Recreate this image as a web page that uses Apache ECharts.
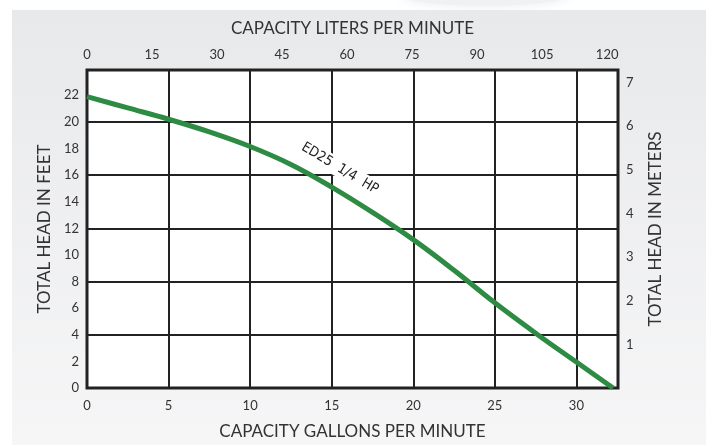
<!DOCTYPE html>
<html>
<head>
<meta charset="utf-8">
<script src="https://cdn.jsdelivr.net/npm/echarts@6/dist/echarts.min.js"></script>
<style>
  html, body { margin: 0; padding: 0; background: #fff; }
  #chart { width: 706px; height: 445px; }
</style>
</head>
<body>
<div id="chart"></div>
<script>
// pump curve
const gpm = [0, 2.5, 5, 7.5, 10, 12.5, 15, 17.5, 20, 22.5, 25, 27.5, 30, 32.25]
const feet = [21.9, 21.05, 20.2, 19.25, 18.15, 16.8, 15.1, 13.2, 11.15, 8.85, 6.4, 4.12, 1.95, 0]

// axis ranges
const gpmMax = 32.55
const lpmMax = 122.5
const feetMax = 23.9
const metersMax = 7.284

const curveName = 'ED25  1/4  HP'
const labelAt = [15.5, 16.5]

const chart = echarts.init(document.getElementById('chart'))

const font = 'Lato, "Open Sans", sans-serif'
const ink = '#333'
const gridColor = '#222'

const tickLabel = {
  color: ink,
  fontFamily: font,
  fontSize: 13
}
const nameStyle = {
  color: ink,
  fontFamily: font,
  fontSize: 17
}

const option = {
  animation: false,
  graphic: [
    {
      type: 'ellipse',
      shape: {cx: 485, cy: -6, rx: 85, ry: 12},
      style: {fill: '#f1f1f2', shadowBlur: 12, shadowColor: 'rgba(0,0,0,0.08)'},
      z: -10
    },
    {
      type: 'rect',
      shape: {x: 12, y: 10, width: 694, height: 435},
      style: {
        fill: new echarts.graphic.LinearGradient(0, 0, 0, 1, [
          {offset: 0, color: '#e8e9eb'},
          {offset: 1, color: '#f6f6f7'}
        ])
      },
      z: -9
    }
  ],
  grid: {
    left: 87,
    right: 88,
    top: 70,
    bottom: 51,
    show: true,
    backgroundColor: '#fff',
    borderColor: gridColor,
    borderWidth: 3
  },
  xAxis: [
    {
      type: 'value',
      position: 'bottom',
      min: 0,
      max: gpmMax,
      interval: 5,
      name: 'CAPACITY GALLONS PER MINUTE',
      nameLocation: 'middle',
      nameGap: 35,
      nameTextStyle: nameStyle,
      axisLine: {show: false},
      axisTick: {show: false},
      axisLabel: Object.assign({margin: 11, showMaxLabel: false}, tickLabel),
      splitLine: {show: true, lineStyle: {color: gridColor, width: 2}}
    },
    {
      type: 'value',
      position: 'top',
      min: 0,
      max: lpmMax,
      interval: 15,
      name: 'CAPACITY LITERS PER MINUTE',
      nameLocation: 'middle',
      nameGap: 33,
      nameTextStyle: nameStyle,
      axisLine: {show: false},
      axisTick: {show: false},
      axisLabel: Object.assign({margin: 9, showMaxLabel: false}, tickLabel),
      splitLine: {show: false}
    }
  ],
  yAxis: [
    {
      type: 'value',
      position: 'left',
      min: 0,
      max: feetMax,
      interval: 2,
      name: 'TOTAL HEAD IN FEET',
      nameLocation: 'middle',
      nameGap: 32,
      nameTextStyle: nameStyle,
      axisLine: {show: false},
      axisTick: {show: false},
      axisLabel: Object.assign({margin: 8, showMaxLabel: false}, tickLabel),
      splitLine: {show: false}
    },
    {
      type: 'value',
      position: 'right',
      min: 0,
      max: metersMax,
      interval: 1,
      name: 'TOTAL HEAD IN METERS',
      nameLocation: 'middle',
      nameGap: 29,
      nameTextStyle: nameStyle,
      axisLine: {show: false},
      axisTick: {show: false},
      axisLabel: Object.assign({
        margin: 8,
        showMaxLabel: false,
        formatter: v => (v === 0 ? '' : String(v))
      }, tickLabel),
      splitLine: {show: false}
    },
    {
      // only for the horizontal grid lines (every 4 ft)
      type: 'value',
      position: 'left',
      min: 0,
      max: feetMax,
      interval: 4,
      axisLine: {show: false},
      axisTick: {show: false},
      axisLabel: {show: false},
      splitLine: {show: true, lineStyle: {color: gridColor, width: 2}}
    }
  ],
  series: [
    {
      name: curveName,
      type: 'line',
      xAxisIndex: 0,
      yAxisIndex: 0,
      data: gpm.map((x, i) => [x, feet[i]]),
      smooth: 0.4,
      showSymbol: false,
      lineStyle: {color: '#2e8b44', width: 5},
      z: 5,
      markPoint: {
        symbol: 'circle',
        symbolSize: 1,
        itemStyle: {color: 'rgba(0,0,0,0)'},
        data: [{coord: labelAt, value: curveName}],
        label: {
          show: true,
          position: 'inside',
          formatter: curveName,
          rotate: -31,
          color: '#222',
          fontFamily: '"DejaVu Sans Condensed", "Liberation Sans Narrow", sans-serif',
          fontSize: 14,
          backgroundColor: '#fff',
          padding: [2, 4]
        }
      }
    }
  ]
}

chart.setOption(option)
</script>
</body>
</html>
